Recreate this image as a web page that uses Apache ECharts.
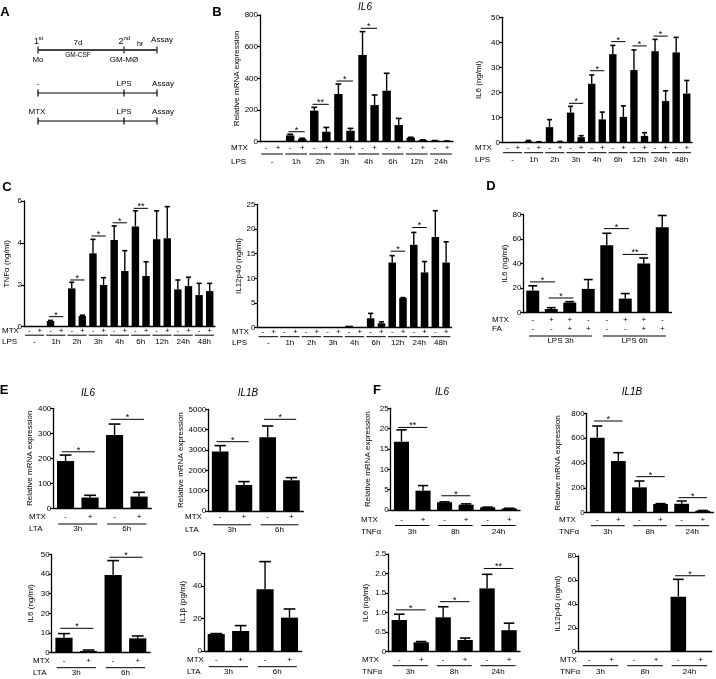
<!DOCTYPE html>
<html><head><meta charset="utf-8">
<script src="https://cdn.jsdelivr.net/npm/echarts@6/dist/echarts.min.js"></script>
<style>html,body{margin:0;padding:0;background:#fff}#c{width:716px;height:679px}</style>
</head><body><div id="c"></div>
<script>
// ================= DATA =================
// B left: IL6 mRNA, LPS time course
const bMrnaGroups = ['-','1h','2h','3h','4h','6h','12h','24h'];
const bMrnaMtx = ['-','+','-','+','-','+','-','+','-','+','-','+','-','+','-','+'];
const bMrnaMean = [0,0,40,18,196,63,301,69,547,231,322,105,25,10,6,4];
const bMrnaSem  = [0,0,7,4,21,27,63,15,148,64,110,42,3,2,1,1];
const bMrnaSig  = [[2,3,63,'*'],[4,5,236,'**'],[6,7,383,'*'],[8,9,716,'*']];
// B right: IL6 protein
const bProtGroups = ['-','1h','2h','3h','4h','6h','12h','24h','48h'];
const bProtMtx = ['-','+','-','+','-','+','-','+','-','+','-','+','-','+','-','+','-','+'];
const bProtMean = [0.2,0.3,0.7,0.3,6.2,0.4,12,2.2,23.5,9.3,35.3,10.3,29,2.7,36.5,16.6,36,19.6];
const bProtSem  = [0,0,0.2,0.1,3,0.1,2.5,0.6,3.5,2.9,3.5,4.4,8,1.3,4.7,4.1,6,5.2];
const bProtSig  = [[6,7,15.7,'*'],[8,9,28.7,'*'],[10,11,40.3,'*'],[12,13,38.6,'*'],[14,15,42.5,'*']];
// C left: TNFa protein
const cGroups = ['-','1h','2h','3h','4h','6h','12h','24h','48h'];
const cMtx = ['-','+','-','+','-','+','-','+','-','+','-','+','-','+','-','+','-','+'];
const cTnfMean = [0.02,0.03,0.27,0.03,1.83,0.51,3.5,1.99,4.14,2.66,4.78,2.42,4.17,4.22,1.78,1.94,1.51,1.7];
const cTnfSem  = [0,0,0.03,0,0.29,0.04,0.67,0.35,0.67,0.97,0.75,0.68,1.36,1.51,0.45,0.42,0.56,0.37];
const cTnfSig  = [[2,3,0.48,'*'],[4,5,2.23,'*'],[6,7,4.33,'*'],[8,9,4.96,'*'],[10,11,5.65,'**']];
// C right: IL12p40 protein
const cIl12Mean = [0.05,0.05,0.05,0.05,0.1,0.1,0.15,0.15,0.4,0.15,1.9,0.9,13.2,6.0,16.8,11.2,18.4,13.2];
const cIl12Sem  = [0,0,0,0,0,0,0,0,0,0,1.0,0.3,1.4,0.1,2.5,2.2,5.3,4.2];
const cIl12Sig  = [[12,13,15.5,'*'],[14,15,20.3,'*']];
// D: IL6 protein with MTX / folinic acid
const dGroups = ['LPS 3h','LPS 6h'];
const dMtx = ['-','+','+','-','-','+','+','-'];
const dFa  = ['-','-','+','+','-','-','+','+'];
const dMean = [18,3,8.2,19.4,54.9,11.5,40.1,69.6];
const dSem  = [3.9,1.1,0.8,7.6,9.8,4.1,4.4,9.6];
const dSig  = [[0,1,25.1,'*'],[1,2,12,'*'],[4,5,68.5,'*'],[5,6,47.5,'**']];
// E: LTA stimulation
const eGroups = ['3h','6h'];
const eMtx = ['-','+','-','+'];
const eIl6mMean = [189,43,293,47];
const eIl6mSem  = [24,9,44,17];
const eIl6mSig  = [[0,1,226,'*'],[2,3,356,'*']];
const eIl1bmMean = [2920,1280,3620,1510];
const eIl1bmSem  = [295,165,560,130];
const eIl1bmSig  = [[0,1,3407,'*'],[2,3,4508,'*']];
const eIl6pMean = [7.6,0.85,39.5,7.3];
const eIl6pSem  = [2.1,0.5,7.3,1.2];
const eIl6pSig  = [[0,1,12.4,'*'],[2,3,48.5,'*']];
const eIl1bpMean = [10.4,12.3,37.9,20.5];
const eIl1bpSem  = [0.3,3.3,17,5.3];
const eIl1bpSig  = [];
// F: TNFa stimulation
const fGroups = ['3h','8h','24h'];
const fMtx = ['-','+','-','+','-','+'];
const fIl6mMean = [16.8,4.75,1.9,1.3,0.66,0.4];
const fIl6mSem  = [2.9,1.25,0.1,0.2,0.05,0.03];
const fIl6mSig  = [[0,1,20.3,'**'],[2,3,3.5,'*']];
const fIl1bmMean = [604,416,204,70,72,16];
const fIl1bmSem  = [94,67,51,3,22,2];
const fIl1bmSig  = [[0,1,738,'*'],[2,3,290,'*'],[4,5,121,'*']];
const fIl6pMean = [0.81,0.24,0.88,0.3,1.62,0.55];
const fIl6pSem  = [0.15,0.02,0.27,0.05,0.36,0.18];
const fIl6pSig  = [[0,1,1.07,'*'],[2,3,1.28,'*'],[4,5,2.13,'**']];
const fIl12Mean = [0.4,0.4,0.4,0.4,46,0.4];
const fIl12Sem  = [0,0,0,0,14.5,0];
const fIl12Sig  = [[4,5,63.5,'*']];

// ================= LAYOUT / BUILD =================
const FONT = '"Liberation Sans", Arial, sans-serif';
const MRNA = 'Relative mRNA expression';
const plain = function(v){ return String(v); };
const panels = [
 {mean:bMrnaMean, sem:bMrnaSem, sig:bMrnaSig, signs:[bMrnaMtx], rows:['MTX','LPS'], groups:bMrnaGroups, gsize:2,
  left:260, top:15, width:193, height:126.7, max:800, interval:200, name:MRNA, nameGap:12,
  labMargin:1.5, rowX:231, grpLine:12.3, grpLab:20.3, grpPad:0.4},
 {mean:bProtMean, sem:bProtSem, sig:bProtSig, signs:[bProtMtx], rows:['MTX','LPS'], groups:bProtGroups, gsize:2,
  left:502, top:17.3, width:190, height:125.4, max:50, interval:10, name:'IL6 (ng/ml)', nameGap:19,
  labMargin:0.5, rowX:475, grpLine:10, grpLab:16.6, grpPad:0.4},
 {mean:cTnfMean, sem:cTnfSem, sig:cTnfSig, signs:[cMtx], rows:['MTX','LPS'], groups:cGroups, gsize:2,
  left:24, top:201, width:191, height:125.7, max:6, interval:2, name:'TNFα (ng/ml)', nameGap:13,
  labMargin:0, rowX:2, grpLine:8.5, grpLab:15.5, grpPad:0.4},
 {mean:cIl12Mean, sem:cIl12Sem, sig:cIl12Sig, signs:[cMtx], rows:['MTX','LPS'], groups:cGroups, gsize:2,
  left:257.5, top:204.3, width:194, height:123.4, max:25, interval:5, name:'IL12p40 (ng/ml)', nameGap:10,
  labMargin:0, rowX:232, grpLine:9, grpLab:15.5, grpPad:0.4},
 {mean:dMean, sem:dSem, sig:dSig, signs:[dMtx, dFa], rows:['MTX','FA',''], groups:dGroups, gsize:4,
  left:523.5, top:214.5, width:148, height:98.2, max:80, interval:20, name:'IL6 (ng/ml)', nameGap:12,
  labMargin:2.8, rowX:492, grpLine:23.3, grpLab:28.3, grpPad:0.2},
 {mean:eIl6mMean, sem:eIl6mSem, sig:eIl6mSig, signs:[eMtx], rows:['MTX','LTA'], groups:eGroups, gsize:2,
  left:53.3, top:408.3, width:98, height:100, max:400, interval:100, name:MRNA, nameGap:18,
  labMargin:3.9, rowX:29, grpLine:15.7, grpLab:20.3, grpPad:0.3},
 {mean:eIl1bmMean, sem:eIl1bmSem, sig:eIl1bmSig, signs:[eMtx], rows:['MTX','LTA'], groups:eGroups, gsize:2,
  left:208.3, top:409.3, width:95, height:101.7, max:5000, interval:1000, name:MRNA, nameGap:18,
  labMargin:1.5, rowX:185, grpLine:13.8, grpLab:18.5, grpPad:0.3},
 {mean:eIl6pMean, sem:eIl6pSem, sig:eIl6pSig, signs:[eMtx], rows:['MTX','LTA'], groups:eGroups, gsize:2,
  left:51.7, top:554.3, width:98.3, height:98.4, max:50, interval:10, name:'IL6 (ng/ml)', nameGap:17,
  labMargin:3.5, rowX:33, grpLine:15, grpLab:19.8, grpPad:0.3},
 {mean:eIl1bpMean, sem:eIl1bpSem, sig:eIl1bpSig, signs:[eMtx], rows:['MTX','LTA'], groups:eGroups, gsize:2,
  left:204, top:553.3, width:97.7, height:97.7, max:60, interval:20, name:'IL1β (pg/ml)', nameGap:17.5,
  labMargin:4.5, rowX:187, grpLine:15.7, grpLab:20.3, grpPad:0.3},
 {mean:fIl6mMean, sem:fIl6mSem, sig:fIl6mSig, signs:[fMtx], rows:['MTX','TNFα'], groups:fGroups, gsize:2,
  left:390.7, top:408.3, width:129.3, height:101.7, max:25, interval:5, name:MRNA, nameGap:19,
  labMargin:5, rowX:361, grpLine:15.5, grpLab:21.5, grpPad:0.3},
 {mean:fIl1bmMean, sem:fIl1bmSem, sig:fIl1bmSig, signs:[fMtx], rows:['MTX','TNFα'], groups:fGroups, gsize:2,
  left:586.7, top:413.3, width:126.6, height:99.4, max:800, interval:200, name:MRNA, nameGap:25,
  labMargin:2.8, rowX:559, grpLine:13, grpLab:19, grpPad:0.3},
 {mean:fIl6pMean, sem:fIl6pSem, sig:fIl6pSig, signs:[fMtx], rows:['MTX','TNFα'], groups:fGroups, gsize:2,
  left:388.3, top:554, width:131.7, height:97.7, max:2.5, interval:0.5, name:'IL6 (ng/ml)', nameGap:18.5,
  labMargin:3.8, rowX:362, grpLine:14, grpLab:20, grpPad:0.3, fmt:function(v){return v===0?'0':v.toFixed(1);}},
 {mean:fIl12Mean, sem:fIl12Sem, sig:fIl12Sig, signs:[fMtx], rows:['MTX','TNFα'], groups:fGroups, gsize:2,
  left:578.3, top:556, width:133.4, height:95.7, max:80, interval:20, name:'IL12p40 (ng/ml)', nameGap:17,
  labMargin:3.8, rowX:560, grpLine:14, grpLab:20, grpPad:0.3}
];

const opt = {animation:false, backgroundColor:'#fff', textStyle:{fontFamily:FONT},
  grid:[], xAxis:[], yAxis:[], series:[], graphic:[]};
const LH = 9;

function txt(x, y, s, o) {
  o = o || {};
  opt.graphic.push({type:'text', x:x, y:y, silent:true, style:Object.assign({text:s, fill:'#000', fontSize:8,
    fontFamily:FONT, align:'center', verticalAlign:'middle'}, o)});
}
function ln(x1, y1, x2, y2, w, c) {
  opt.graphic.push({type:'line', silent:true, shape:{x1:x1,y1:y1,x2:x2,y2:y2}, style:{stroke:c||'#000', lineWidth:w||1}});
}

panels.forEach(function(p, k){
  opt.grid.push({left:p.left, top:p.top, width:p.width, height:p.height, containLabel:false, outerBoundsMode:'none'});
  opt.xAxis.push({type:'category', gridIndex:k, data:p.mean.map(function(_,i){return String(i);}), boundaryGap:true,
    axisLine:{show:true, onZero:false, lineStyle:{color:'#000', width:1.3}}, axisTick:{show:false}, splitLine:{show:false},
    axisLabel:{show:true, interval:0, hideOverlap:false, margin:p.labMargin, fontSize:8, color:'#000', fontFamily:FONT, lineHeight:LH,
      formatter:function(v,i){return p.signs.map(function(r){return r[i];}).join('\n');}}});
  opt.yAxis.push({type:'value', gridIndex:k, min:0, max:p.max, interval:p.interval,
    axisLine:{show:true, lineStyle:{color:'#000', width:1.3}},
    axisTick:{show:true, length:3, inside:false, lineStyle:{color:'#000', width:1.2}},
    splitLine:{show:false},
    axisLabel:{fontSize:8, color:'#000', margin:2, fontFamily:FONT, formatter:p.fmt || plain},
    name:p.name, nameLocation:'middle', nameGap:p.nameGap,
    nameTextStyle:{fontSize:8, color:'#000', fontFamily:FONT}});
  opt.series.push({type:'bar', xAxisIndex:k, yAxisIndex:k, data:p.mean, barWidth:'70%',
    itemStyle:{color:'#000'}, silent:true, z:2});
  // error bars
  opt.series.push({type:'custom', xAxisIndex:k, yAxisIndex:k, clip:false, silent:true, z:3,
    data:p.mean.map(function(m,i){return [i, m, p.sem[i]];}), encode:{x:0, y:1},
    renderItem:function(params, api){
      var i = api.value(0), m = api.value(1), s = api.value(2);
      if (!(s > 0)) return null;
      var band = api.size([1,0])[0];
      var p0 = api.coord([i,m]), p1 = api.coord([i,m+s]);
      var cw = band*0.24;
      return {type:'group', children:[
        {type:'line', shape:{x1:p0[0], y1:p0[1], x2:p1[0], y2:p1[1]}, style:{stroke:'#000', lineWidth:1.4}},
        {type:'line', shape:{x1:p1[0]-cw, y1:p1[1], x2:p1[0]+cw, y2:p1[1]}, style:{stroke:'#000', lineWidth:1.6}}
      ]};
    }});
  // significance bars
  if (p.sig.length) opt.series.push({type:'custom', xAxisIndex:k, yAxisIndex:k, clip:false, silent:true, z:3,
    data:p.sig.map(function(s){return [s[0], s[2], s[1]];}), encode:{x:0, y:1},
    renderItem:function(params, api){
      var a = api.value(0), y = api.value(1), b = api.value(2);
      var band = api.size([1,0])[0];
      var pa = api.coord([a,y]), pb = api.coord([b,y]);
      var x1 = pa[0]-band*0.15, x2 = pb[0]+band*0.2;
      return {type:'group', children:[
        {type:'line', shape:{x1:x1, y1:pa[1], x2:x2, y2:pa[1]}, style:{stroke:'#000', lineWidth:1}},
        {type:'text', style:{text:p.sig[params.dataIndex][3], x:(x1+x2)/2, y:pa[1]-1.5, align:'center',
          verticalAlign:'middle', fontSize:9, fill:'#000', fontFamily:FONT}}
      ]};
    }});
  // group underlines + labels
  opt.series.push({type:'custom', xAxisIndex:k, yAxisIndex:k, clip:false, silent:true, z:3,
    data:p.groups.map(function(g,j){return [j*p.gsize, 0, j*p.gsize+p.gsize-1];}), encode:{x:0, y:1},
    renderItem:function(params, api){
      var a = api.value(0), b = api.value(2);
      var band = api.size([1,0])[0];
      var pa = api.coord([a,0]), pb = api.coord([b,0]);
      var x1 = pa[0]-band*p.grpPad, x2 = pb[0]+band*p.grpPad, y = pa[1];
      return {type:'group', children:[
        {type:'line', shape:{x1:x1, y1:y+p.grpLine, x2:x2, y2:y+p.grpLine}, style:{stroke:'#000', lineWidth:1}},
        {type:'text', style:{text:p.groups[params.dataIndex], x:(x1+x2)/2, y:y+p.grpLab, align:'center',
          verticalAlign:'middle', fontSize:8, fill:'#000', fontFamily:FONT}}
      ]};
    }});
  // row names
  var axisY = p.top + p.height;
  p.rows.forEach(function(r, ri){
    if (!r) return;
    var y = ri < p.signs.length ? axisY + p.labMargin + LH/2 + ri*LH : axisY + p.grpLab;
    txt(p.rowX, y, r, {align:'left'});
  });
});

// panel letters
[['A',5,12],['B',217,12],['C',7,187],['D',491,186],['E',4,390],['F',377,390]].forEach(function(l){
  txt(l[1], l[2], l[0], {fontSize:13, fontWeight:'bold'});
});
// gene titles
[['IL6',365,7],['IL6',88,393],['IL1B',248,393],['IL6',442,392],['IL1B',632,392]].forEach(function(t){
  txt(t[1], t[2], t[0], {fontSize:10, fontStyle:'italic'});
});

// panel A schematic
ln(38,50,157,50,2,'#444');
[38,124,157].forEach(function(x){ ln(x,46.5,x,53.5,1.5,'#444'); });
txt(36.5,42,'1',{fontSize:9}); txt(38.5,38,'st',{fontSize:6,align:'left'});
txt(121,42,'2',{fontSize:9}); txt(123.5,38,'nd',{fontSize:6,align:'left'});
txt(78,43,'7d',{fontSize:8}); txt(140,44,'hr',{fontSize:7}); txt(162,40,'Assay',{fontSize:8});
txt(78,55,'GM-CSF',{fontSize:6.5}); txt(38,60,'Mo',{fontSize:8}); txt(124,60,'GM-MØ',{fontSize:8});
ln(38,93,157,93,1.2); [38,124,157].forEach(function(x){ ln(x,89.5,x,96.5,1.2); });
txt(38,84,'-',{fontSize:8}); txt(124,84,'LPS',{fontSize:8}); txt(163,84,'Assay',{fontSize:8});
ln(38,121,157,121,1.2); [38,124,157].forEach(function(x){ ln(x,117.5,x,124.5,1.2); });
txt(37,112,'MTX',{fontSize:8}); txt(124,112,'LPS',{fontSize:8}); txt(163,112,'Assay',{fontSize:8});

const chart = echarts.init(document.getElementById('c'), null, {renderer:'canvas'});
chart.setOption(opt);
</script>
</body></html>
